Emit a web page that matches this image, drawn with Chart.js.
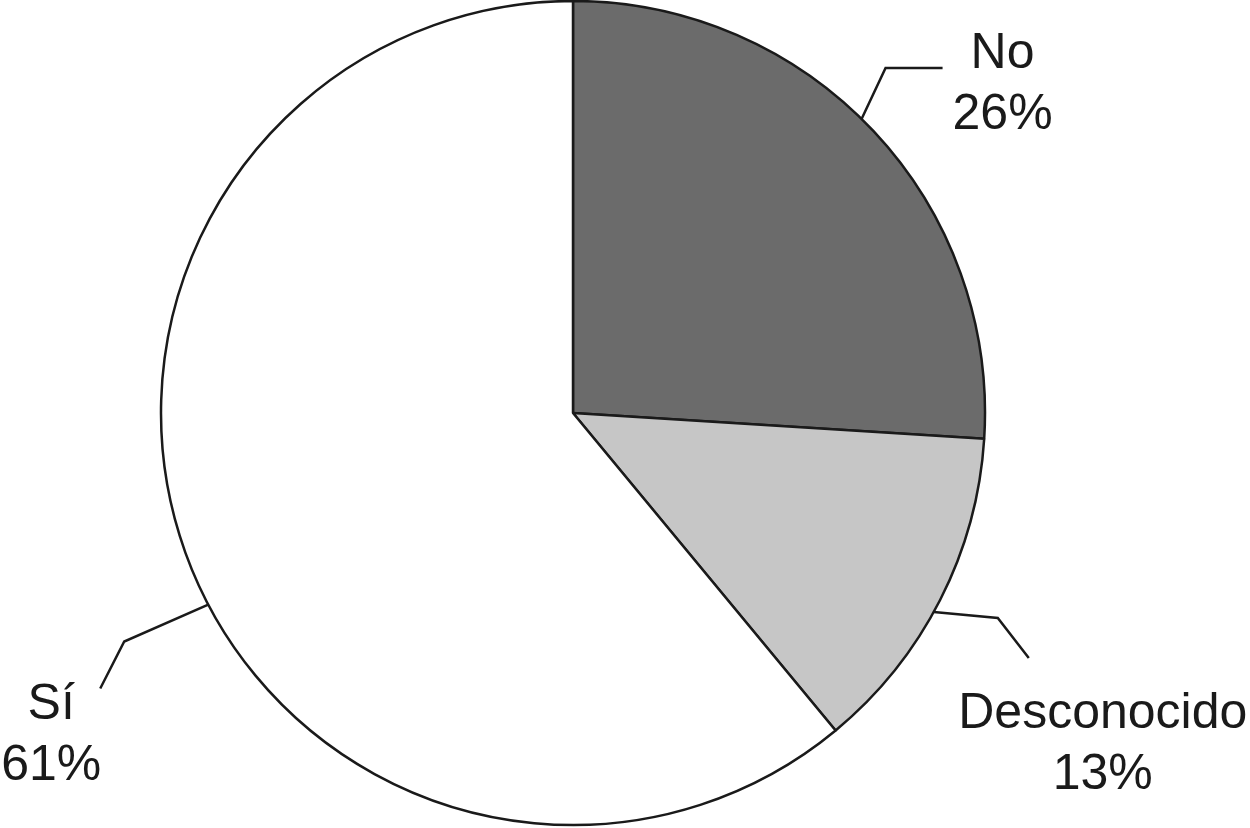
<!DOCTYPE html>
<html>
<head>
<meta charset="utf-8">
<script src="https://cdn.jsdelivr.net/npm/chart.js@4"></script>
<style>
  html, body { margin: 0; padding: 0; background: #fff; }
  #wrap { width: 1250px; height: 828px; }
</style>
</head>
<body>
<div id="wrap"><canvas id="c" width="1250" height="828"></canvas></div>
<script>
// Data
const categories = ['No', 'Desconocido', 'Sí'];
const percentages = [26, 13, 61];
const sliceColors = ['#6b6b6b', '#c6c6c6', '#ffffff'];

// Label layout (styling): anchor position within slice (fraction), elbow/end offsets, text offset
const labelLayout = [
  { frac: 0.475, elbow: [24, -51], end: [81, -51], text: [141, -51] },
  { frac: 0.54,  elbow: [64, 6],   end: [95, 46],  text: [169, 116] },
  { frac: 0.464, elbow: [-84, 37], end: [-108, 84], text: [-157, 114] }
];

const labelPlugin = {
  id: 'leaderLabels',
  afterDatasetsDraw(chart) {
    const ctx = chart.ctx;
    const meta = chart.getDatasetMeta(0);
    ctx.save();
    ctx.font = '50px "Liberation Sans", Arial, sans-serif';
    ctx.fillStyle = '#1a1a1a';
    ctx.strokeStyle = '#1a1a1a';
    ctx.lineWidth = 2.5;
    ctx.textAlign = 'center';
    ctx.textBaseline = 'alphabetic';
    meta.data.forEach((arc, i) => {
      const p = arc.getProps(['x', 'y', 'startAngle', 'endAngle', 'outerRadius'], true);
      const L = labelLayout[i];
      const ang = p.startAngle + (p.endAngle - p.startAngle) * L.frac;
      const ax = p.x + Math.cos(ang) * p.outerRadius;
      const ay = p.y + Math.sin(ang) * p.outerRadius;
      ctx.beginPath();
      ctx.moveTo(ax, ay);
      ctx.lineTo(ax + L.elbow[0], ay + L.elbow[1]);
      ctx.lineTo(ax + L.end[0], ay + L.end[1]);
      ctx.stroke();
      const tx = ax + L.text[0];
      const ty = ay + L.text[1];
      ctx.fillText(categories[i], tx, ty);
      ctx.fillText(percentages[i] + '%', tx, ty + 61);
    });
    ctx.restore();
  }
};

new Chart(document.getElementById('c'), {
  type: 'pie',
  data: {
    labels: categories,
    datasets: [{
      data: percentages,
      backgroundColor: sliceColors,
      borderColor: '#1a1a1a',
      borderWidth: 2.5,
      radius: 412
    }]
  },
  options: {
    responsive: false,
    animation: false,
    layout: { padding: { left: 0, right: 104, top: 0, bottom: 2 } },
    plugins: {
      legend: { display: false },
      tooltip: { enabled: false }
    }
  },
  plugins: [labelPlugin]
});
</script>
</body>
</html>
